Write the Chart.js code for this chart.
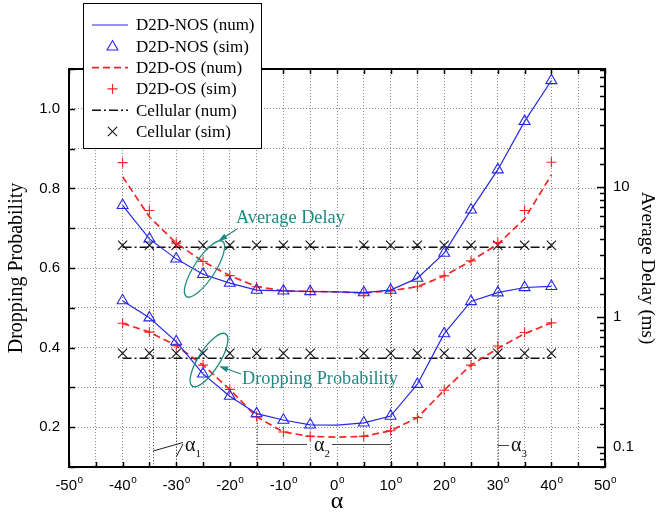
<!DOCTYPE html>
<html>
<head>
<meta charset="utf-8">
<script src="https://cdn.jsdelivr.net/npm/chart.js@4.4.1/dist/chart.umd.min.js"></script>
<style>
  html, body { margin: 0; padding: 0; background: #fff; }
  #wrap { width: 660px; height: 512px; }
</style>
</head>
<body>
<div id="wrap"><canvas id="chart" width="660" height="512"></canvas></div>
<script>
// offset angle alpha (degrees)
const alpha = [-40, -35, -30, -25, -20, -15, -10, -5, 0, 5, 10, 15, 20, 25, 30, 35, 40];
const xTickLabels = [-50, -40, -30, -20, -10, 0, 10, 20, 30, 40, 50];

// average delay (ms), right log axis
const delayNosNum  = [7.23, 3.99, 2.80, 2.13, 1.82, 1.61, 1.59, 1.57, 1.56, 1.54, 1.61, 1.99, 3.10, 6.67, 13.6, 32.0, 66.1];
const delayNosSim  = [7.23, 3.99, 2.80, 2.13, 1.82, 1.61, 1.59, 1.57, null, 1.54, 1.61, 1.99, 3.10, 6.67, 13.6, 32.0, 66.1];
const delayOsNum   = [12.0, 5.90, 3.70, 2.67, 2.08, 1.71, 1.59, 1.57, 1.56, 1.53, 1.59, 1.71, 2.07, 2.70, 3.63, 5.70, 12.4];
const delayOsSim   = [15.4, 6.59, 3.70, 2.67, 2.08, 1.71, 1.59, 1.57, null, 1.51, 1.59, 1.71, 2.07, 2.70, 3.74, 6.59, 15.5];
const delayCellNum = [3.44, 3.44, 3.44, 3.44, 3.44, 3.44, 3.44, 3.44, 3.44, 3.44, 3.44, 3.44, 3.44, 3.44, 3.44, 3.44, 3.44];
const delayCellSim = [3.56, 3.56, 3.56, 3.56, 3.56, 3.56, 3.56, 3.56, null, 3.56, 3.56, 3.56, 3.56, 3.56, 3.56, 3.56, 3.56];

// dropping probability, left axis
const dropNosNum  = [0.518, 0.475, 0.415, 0.334, 0.278, 0.234, 0.218, 0.206, 0.205, 0.211, 0.228, 0.308, 0.435, 0.516, 0.538, 0.551, 0.554];
const dropNosSim  = [0.518, 0.475, 0.415, 0.334, 0.278, 0.234, 0.218, 0.206, null, 0.211, 0.228, 0.308, 0.435, 0.516, 0.538, 0.551, 0.554];
const dropOsNum   = [0.461, 0.439, 0.405, 0.356, 0.295, 0.226, 0.188, 0.177, 0.175, 0.177, 0.191, 0.224, 0.293, 0.356, 0.398, 0.435, 0.462];
const dropOsSim   = [0.461, 0.439, 0.405, 0.356, 0.295, 0.226, 0.188, 0.177, null, 0.177, 0.191, 0.224, 0.293, 0.356, 0.404, 0.438, 0.462];
const dropCellNum = [0.373, 0.373, 0.373, 0.373, 0.373, 0.373, 0.373, 0.373, 0.373, 0.373, 0.373, 0.373, 0.373, 0.373, 0.373, 0.373, 0.373];
const dropCellSim = [0.386, 0.386, 0.386, 0.386, 0.386, 0.386, 0.386, 0.386, null, 0.386, 0.386, 0.386, 0.386, 0.386, 0.386, 0.386, 0.386];

const seriesLabels = ['D2D-NOS (num)', 'D2D-NOS (sim)', 'D2D-OS (num)', 'D2D-OS (sim)', 'Cellular (num)', 'Cellular (sim)'];

const BLUE = '#2626e8';
const RED = '#f42525';
const BLACK = '#111';
const TEAL = '#1f8a82';
const SANS = '"Liberation Sans", Arial, sans-serif';
const SERIF = '"Liberation Serif", "Times New Roman", serif';

Chart.defaults.font.family = SANS;

function pts(vals) {
  return alpha.map((a, i) => ({ x: a, y: vals[i] }));
}

function numSet(label, vals, axis, color, dash, width) {
  return {
    label, data: pts(vals), yAxisID: axis, showLine: true,
    borderColor: color, borderWidth: width, borderDash: dash,
    pointRadius: 0, tension: 0, kind: 'line'
  };
}

function simSet(label, vals, axis, color, style, radius) {
  return {
    label, data: pts(vals), yAxisID: axis, showLine: false,
    pointStyle: style, pointRadius: radius, pointBorderColor: color,
    pointBackgroundColor: 'rgba(0,0,0,0)', pointBorderWidth: 1.1,
    borderColor: color, kind: 'point'
  };
}

const datasets = [
  numSet(seriesLabels[0], delayNosNum, 'y2', BLUE, [], 1.2),
  simSet(seriesLabels[1], delayNosSim, 'y2', BLUE, 'triangle', 6.3),
  numSet(seriesLabels[2], delayOsNum, 'y2', RED, [7, 4], 1.7),
  simSet(seriesLabels[3], delayOsSim, 'y2', RED, 'cross', 5),
  numSet(seriesLabels[4], delayCellNum, 'y2', BLACK, [9, 3, 2, 3], 1.5),
  simSet(seriesLabels[5], delayCellSim, 'y2', BLACK, 'crossRot', 6.5),
  numSet(seriesLabels[0], dropNosNum, 'y', BLUE, [], 1.2),
  simSet(seriesLabels[1], dropNosSim, 'y', BLUE, 'triangle', 6.3),
  numSet(seriesLabels[2], dropOsNum, 'y', RED, [7, 4], 1.7),
  simSet(seriesLabels[3], dropOsSim, 'y', RED, 'cross', 5),
  numSet(seriesLabels[4], dropCellNum, 'y', BLACK, [9, 3, 2, 3], 1.5),
  simSet(seriesLabels[5], dropCellSim, 'y', BLACK, 'crossRot', 6.5)
];

function marker(ctx, style, x, y, r) {
  ctx.beginPath();
  if (style === 'triangle') {
    ctx.moveTo(x, y - r);
    ctx.lineTo(x + r * 0.866, y + r * 0.5);
    ctx.lineTo(x - r * 0.866, y + r * 0.5);
    ctx.closePath();
  } else if (style === 'cross') {
    ctx.moveTo(x - r, y); ctx.lineTo(x + r, y);
    ctx.moveTo(x, y - r); ctx.lineTo(x, y + r);
  } else {
    const d = r * 0.7071;
    ctx.moveTo(x - d, y - d); ctx.lineTo(x + d, y + d);
    ctx.moveTo(x + d, y - d); ctx.lineTo(x - d, y + d);
  }
  ctx.stroke();
}

function arrow(ctx, x1, y1, x2, y2) {
  const ang = Math.atan2(y2 - y1, x2 - x1);
  ctx.beginPath();
  ctx.moveTo(x1, y1);
  ctx.lineTo(x2, y2);
  ctx.stroke();
  ctx.beginPath();
  ctx.moveTo(x2 + 2 * Math.cos(ang), y2 + 2 * Math.sin(ang));
  ctx.lineTo(x2 - 7 * Math.cos(ang) + 3 * Math.sin(ang), y2 - 7 * Math.sin(ang) - 3 * Math.cos(ang));
  ctx.lineTo(x2 - 7 * Math.cos(ang) - 3 * Math.sin(ang), y2 - 7 * Math.sin(ang) + 3 * Math.cos(ang));
  ctx.closePath();
  ctx.fill();
}

function line(ctx, x1, y1, x2, y2) {
  ctx.beginPath();
  ctx.moveTo(x1, y1);
  ctx.lineTo(x2, y2);
  ctx.stroke();
}

// alpha label with a small subscript digit
function alphaLabel(ctx, x, y, sub) {
  ctx.fillStyle = '#111';
  ctx.textAlign = 'left';
  ctx.textBaseline = 'alphabetic';
  ctx.font = '20px ' + SERIF;
  ctx.fillText('α', x, y);
  const w = ctx.measureText('α').width;
  ctx.font = '11px ' + SERIF;
  ctx.fillText(sub, x + w, y + 6);
}

const decorations = {
  id: 'decorations',
  beforeDatasetsDraw(chart) {
    const { ctx, chartArea: a, scales } = chart;
    const xs = scales.x, yl = scales.y, yr = scales.y2;
    // darker dotted markers for the alpha boundaries
    ctx.save();
    ctx.strokeStyle = '#333';
    ctx.lineWidth = 1;
    ctx.setLineDash([1, 2]);
    const marks = [
      [-34.3, yr.getPixelForValue(3.44)],
      [-30, yl.getPixelForValue(0.415)],
      [-15, yl.getPixelForValue(0.234)],
      [10, yr.getPixelForValue(1.61)],
      [30, yr.getPixelForValue(3.74)]
    ];
    marks.forEach(([v, top]) => {
      const px = Math.round(xs.getPixelForValue(v)) + 0.5;
      line(ctx, px, top, px, a.bottom);
    });
    ctx.restore();
  },
  afterDatasetsDraw(chart) {
    const { ctx, chartArea: a, scales } = chart;
    const xs = scales.x, yl = scales.y, yr = scales.y2;
    ctx.save();

    // inward tick marks
    ctx.strokeStyle = '#000';
    ctx.lineWidth = 1.5;
    xs.ticks.forEach(t => {
      const px = Math.round(xs.getPixelForValue(t.value)) + 0.5;
      line(ctx, px, a.bottom, px, a.bottom - 5);
      line(ctx, px, a.top, px, a.top + 5);
    });
    yl.ticks.forEach(t => {
      const py = Math.round(yl.getPixelForValue(t.value)) + 0.5;
      line(ctx, a.left, py, a.left + 6, py);
    });
    yr.ticks.forEach(t => {
      const py = Math.round(yr.getPixelForValue(t.value)) + 0.5;
      const l = Math.log10(t.value);
      const major = Math.abs(l - Math.round(l)) < 1e-6;
      line(ctx, a.right, py, a.right - (major ? 8 : 5), py);
    });

    // plot frame
    ctx.lineWidth = 2;
    ctx.strokeRect(a.left, a.top, a.right - a.left, a.bottom - a.top);

    // x tick labels with raised "o" degree marks
    ctx.fillStyle = '#000';
    ctx.textBaseline = 'alphabetic';
    ctx.textAlign = 'left';
    xTickLabels.forEach(v => {
      const s = String(v);
      ctx.font = '15px ' + SANS;
      const w1 = ctx.measureText(s).width;
      ctx.font = '10px ' + SANS;
      const w2 = ctx.measureText('o').width;
      const x0 = xs.getPixelForValue(v) - (w1 + w2) / 2;
      ctx.font = '15px ' + SANS;
      ctx.fillText(s, x0, 490);
      ctx.font = '10px ' + SANS;
      ctx.fillText('o', x0 + w1 + 0.5, 483);
    });

    // axis titles
    ctx.font = '24px ' + SERIF;
    ctx.textAlign = 'center';
    ctx.fillText('α', (a.left + a.right) / 2, 508);

    ctx.textBaseline = 'middle';
    ctx.save();
    ctx.font = '20px ' + SERIF;
    ctx.translate(17, (a.top + a.bottom) / 2);
    ctx.rotate(-Math.PI / 2);
    ctx.fillText('Dropping Probability', 0, 0);
    ctx.restore();
    ctx.save();
    ctx.font = '19px ' + SERIF;
    ctx.translate(647, (a.top + a.bottom) / 2);
    ctx.rotate(Math.PI / 2);
    ctx.fillText('Average Delay (ms)', 0, 0);
    ctx.restore();

    // alpha region markers
    ctx.strokeStyle = '#222';
    ctx.lineWidth = 1;
    const xa1 = xs.getPixelForValue(-34.3);
    line(ctx, xa1, 451, 183, 442.5);
    line(ctx, xs.getPixelForValue(-30), 457, 183, 444);
    alphaLabel(ctx, 185, 450.5, '1');
    ctx.strokeStyle = '#444';
    line(ctx, xs.getPixelForValue(-15), 444.5, 307, 444.5);
    line(ctx, 332, 444.5, xs.getPixelForValue(10), 444.5);
    alphaLabel(ctx, 314, 450.5, '2');
    line(ctx, xs.getPixelForValue(30), 445.5, 509, 445.5);
    alphaLabel(ctx, 511, 451, '3');

    // curve-group callouts
    ctx.strokeStyle = TEAL;
    ctx.fillStyle = TEAL;
    ctx.lineWidth = 1.3;
    ctx.beginPath();
    ctx.ellipse(204.5, 269, 10.5, 33, 0.58, 0, Math.PI * 2);
    ctx.stroke();
    ctx.beginPath();
    ctx.ellipse(209, 360, 10.5, 31, 0.57, 0, Math.PI * 2);
    ctx.stroke();
    arrow(ctx, 237, 229, 220, 240);
    arrow(ctx, 241, 374, 221, 367);
    ctx.font = '18.3px ' + SERIF;
    ctx.textAlign = 'left';
    ctx.textBaseline = 'alphabetic';
    ctx.fillText('Average Delay', 236, 223);
    ctx.fillText('Dropping Probability', 242, 384);

    ctx.restore();
  },
  afterDraw(chart) {
    const ctx = chart.ctx;
    ctx.save();
    // legend box
    ctx.fillStyle = '#fff';
    ctx.fillRect(83, 3, 179, 146);
    ctx.strokeStyle = '#000';
    ctx.lineWidth = 1;
    ctx.strokeRect(83.5, 3.5, 178, 145);
    chart.data.datasets.slice(0, 6).forEach((ds, i) => {
      const ry = 25 + i * 21.3;
      ctx.strokeStyle = ds.borderColor;
      if (ds.kind === 'line') {
        ctx.lineWidth = ds.borderWidth;
        ctx.setLineDash(ds.borderDash);
        line(ctx, 92, ry, 128, ry);
        ctx.setLineDash([]);
      } else {
        ctx.lineWidth = 1.1;
        marker(ctx, ds.pointStyle, 112.5, ry + (ds.pointStyle === 'triangle' ? 0.5 : 0), ds.pointRadius);
      }
      ctx.fillStyle = '#000';
      ctx.font = '17px ' + SERIF;
      ctx.textAlign = 'left';
      ctx.textBaseline = 'middle';
      ctx.fillText(ds.label, 136, ry + 1);
    });
    ctx.restore();
  }
};

const gridStyle = { color: '#8a8a8a', lineWidth: 1, drawTicks: false };

new Chart(document.getElementById('chart'), {
  type: 'scatter',
  data: { datasets },
  options: {
    responsive: false,
    animation: false,
    layout: { padding: { top: 69, left: 0, right: 0, bottom: 0 } },
    plugins: { legend: { display: false }, tooltip: { enabled: false } },
    scales: {
      x: {
        type: 'linear', min: -50, max: 50,
        ticks: { stepSize: 5, autoSkip: false, color: 'rgba(0,0,0,0)', font: { size: 15 } },
        grid: gridStyle,
        border: { display: false, dash: [1, 2] },
        afterFit(s) { s.height = 45; }
      },
      y: {
        type: 'linear', position: 'left', min: 0.1, max: 1.1,
        ticks: {
          stepSize: 0.1, autoSkip: false, padding: 9, color: '#000',
          font: { size: 15, family: SANS },
          callback(v) {
            const k = Math.round(v * 10);
            return k % 2 === 0 ? (k / 10).toFixed(1) : '';
          }
        },
        grid: gridStyle,
        border: { display: false, dash: [1, 2] },
        afterFit(s) { s.width = 69; }
      },
      y2: {
        type: 'logarithmic', position: 'right', min: 0.07, max: 81,
        ticks: {
          autoSkip: false, padding: 8, color: '#000',
          font: { size: 15, family: SANS },
          callback(v) {
            const l = Math.log10(v);
            return Math.abs(l - Math.round(l)) < 1e-6 ? String(v) : '';
          }
        },
        grid: { drawOnChartArea: false, drawTicks: false },
        border: { display: false },
        afterFit(s) { s.width = 55; }
      }
    }
  },
  plugins: [decorations]
});
</script>
</body>
</html>
